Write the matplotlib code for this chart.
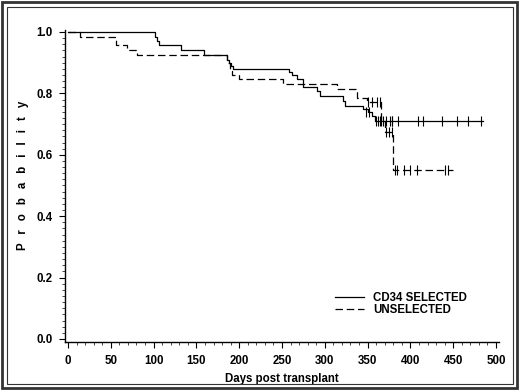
import numpy as np
import matplotlib
matplotlib.use("Agg")
import matplotlib.pyplot as plt
from matplotlib.patches import Rectangle
from matplotlib.ticker import MultipleLocator

plt.rcParams['font.family'] = ['Liberation Sans', 'DejaVu Sans']

# --------------------------
# Kaplan-Meier step data
# --------------------------
sel_times = [0, 102, 104, 106, 132, 159, 186, 188, 190, 193, 258, 262, 267,
             275, 291, 294, 321, 324, 345, 350, 355, 359]
sel_surv = [1.0, 0.985, 0.970, 0.958, 0.940, 0.926, 0.910, 0.900, 0.890, 0.880,
            0.870, 0.860, 0.848, 0.822, 0.807, 0.792, 0.776, 0.760, 0.748,
            0.738, 0.725, 0.711]
sel_end = 485

unsel_times = [0, 14, 56, 69, 81, 186, 189, 192, 200, 251, 314, 338, 349,
               366, 370, 380]
unsel_surv = [1.0, 0.985, 0.958, 0.942, 0.926, 0.900, 0.873, 0.860, 0.846,
              0.830, 0.814, 0.786, 0.773, 0.711, 0.673, 0.549]
unsel_end = 450

# censored observations
sel_cens_t = [348, 352, 360, 362, 364, 366, 368, 372, 376, 378, 379, 385,
              409, 415, 437, 454, 467, 483]
sel_cens_s = [0.738, 0.738, 0.711, 0.711, 0.711, 0.711, 0.711, 0.711, 0.711,
              0.711, 0.711, 0.711, 0.711, 0.711, 0.711, 0.711, 0.711, 0.711]
unsel_cens_t = [350, 355, 361, 364, 372, 375, 378, 382, 384, 392, 400, 408,
                440, 444]
unsel_cens_s = [0.773, 0.773, 0.773, 0.773, 0.673, 0.673, 0.673, 0.549, 0.549,
                0.549, 0.549, 0.549, 0.549, 0.549]

labels = ["CD34 SELECTED", "UNSELECTED"]
FS = 8.3


def km_xy(times, surv, end):
    x = list(times) + [end]
    y = list(surv) + [surv[-1]]
    return x, y


fig = plt.figure(figsize=(5.2, 3.91), dpi=100)
ax = fig.add_axes([65 / 520, 49 / 391, 434 / 520, 312 / 391])

x, y = km_xy(sel_times, sel_surv, sel_end)
ax.step(x, y, where='post', color='black', lw=0.9, label=labels[0])
x, y = km_xy(unsel_times, unsel_surv, unsel_end)
ax.step(x, y, where='post', color='black', lw=0.9, dashes=(6, 3),
        label=labels[1])

ax.plot(sel_cens_t, sel_cens_s, ls='none', marker='|', ms=6.5, mew=0.8,
        color='black')
ax.plot(unsel_cens_t, unsel_cens_s, ls='none', marker='|', ms=6.5, mew=0.8,
        color='black')

ax.set_xlim(-3.5, 503.5)
ax.set_ylim(-0.0098, 1.0065)
ax.xaxis.set_major_locator(MultipleLocator(50))
ax.xaxis.set_minor_locator(MultipleLocator(10))
ax.yaxis.set_minor_locator(MultipleLocator(0.02))
ax.set_yticks(np.arange(0, 1.01, 0.2))
ax.set_yticklabels([f"{v:.1f}" for v in np.arange(0, 1.01, 0.2)])

for side in ['top', 'right']:
    ax.spines[side].set_visible(False)
for side in ['left', 'bottom']:
    ax.spines[side].set_linewidth(1.0)

ax.tick_params(which='major', length=4, width=0.8, labelsize=FS, pad=5)
ax.tick_params(which='minor', length=2, width=0.5)
for lab in ax.get_xticklabels() + ax.get_yticklabels():
    lab.set_fontweight('bold')

ax.set_xlabel("Days post transplant", fontsize=FS, fontweight='bold',
              labelpad=5)
ax.set_ylabel(" \u2002".join("Probability"), fontsize=FS, fontweight='bold')
ax.yaxis.set_label_coords(-0.083, 0.535)

ax.legend(loc='upper left', bbox_to_anchor=(325 / 520, 1 - 282 / 391),
          bbox_transform=fig.transFigure, frameon=False, handlelength=2.5,
          handletextpad=0.8, labelspacing=0.0,
          prop={'weight': 'bold', 'size': FS})

# double border round the figure
fig.add_artist(Rectangle((2 / 520, 3 / 391), 515 / 520, 386 / 391,
                         transform=fig.transFigure, fill=False, lw=2.0,
                         color='#333333'))
fig.add_artist(Rectangle((7 / 520, 7 / 391), 506 / 520, 377 / 391,
                         transform=fig.transFigure, fill=False, lw=0.8,
                         color='#333333'))

fig.savefig("out.png", dpi=100)
